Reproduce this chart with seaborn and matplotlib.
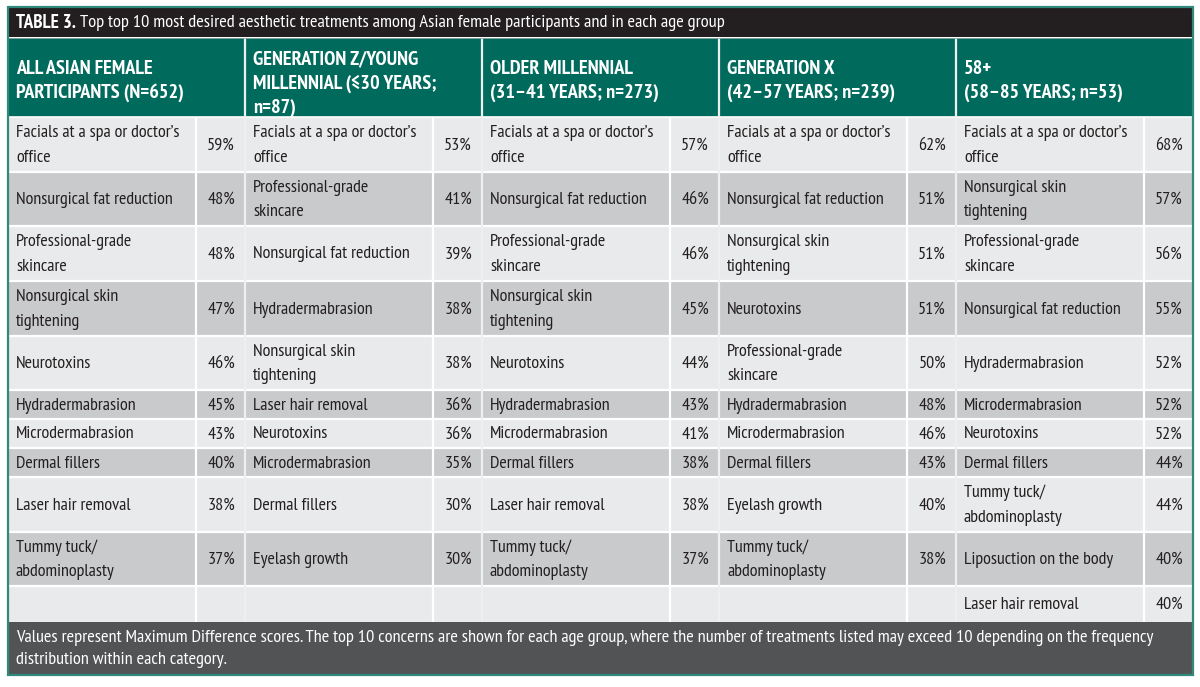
import matplotlib
matplotlib.use("Agg")
import matplotlib.pyplot as plt
from matplotlib import font_manager as fm
import seaborn as sns

sns.set_theme(style="white")
FONT = ["PT Sans Narrow", "DejaVu Sans"]
plt.rcParams["font.family"] = FONT

# ---------------- data ----------------
title_bold = "TABLE 3."
title_rest = "Top top 10 most desired aesthetic treatments among Asian female participants and in each age group"
footer_lines = [
    "Values represent Maximum Difference scores. The top 10 concerns are shown for each age group, where the number of treatments listed may exceed 10 depending on the frequency",
    "distribution within each category.",
]
headers = [
    "ALL ASIAN FEMALE\nPARTICIPANTS (N=652)",
    "GENERATION Z/YOUNG\nMILLENNIAL (≤30 YEARS;\nn=87)",
    "OLDER MILLENNIAL\n(31–41 YEARS; n=273)",
    "GENERATION X\n(42–57 YEARS; n=239)",
    "58+\n(58–85 YEARS; n=53)",
]
all_treat = ["Facials at a spa or doctor’s\noffice", "Nonsurgical fat reduction", "Professional-grade\nskincare",
             "Nonsurgical skin\ntightening", "Neurotoxins", "Hydradermabrasion", "Microdermabrasion",
             "Dermal fillers", "Laser hair removal", "Tummy tuck/\nabdominoplasty"]
all_pct = [59, 48, 48, 47, 46, 45, 43, 40, 38, 37]
genz_treat = ["Facials at a spa or doctor’s\noffice", "Professional-grade\nskincare", "Nonsurgical fat reduction",
              "Hydradermabrasion", "Nonsurgical skin\ntightening", "Laser hair removal", "Neurotoxins",
              "Microdermabrasion", "Dermal fillers", "Eyelash growth"]
genz_pct = [53, 41, 39, 38, 38, 36, 36, 35, 30, 30]
older_treat = ["Facials at a spa or doctor’s\noffice", "Nonsurgical fat reduction", "Professional-grade\nskincare",
               "Nonsurgical skin\ntightening", "Neurotoxins", "Hydradermabrasion", "Microdermabrasion",
               "Dermal fillers", "Laser hair removal", "Tummy tuck/\nabdominoplasty"]
older_pct = [57, 46, 46, 45, 44, 43, 41, 38, 38, 37]
genx_treat = ["Facials at a spa or doctor’s\noffice", "Nonsurgical fat reduction", "Nonsurgical skin\ntightening",
              "Neurotoxins", "Professional-grade\nskincare", "Hydradermabrasion", "Microdermabrasion",
              "Dermal fillers", "Eyelash growth", "Tummy tuck/\nabdominoplasty"]
genx_pct = [62, 51, 51, 51, 50, 48, 46, 43, 40, 38]
s58_treat = ["Facials at a spa or doctor’s\noffice", "Nonsurgical skin\ntightening", "Professional-grade\nskincare",
             "Nonsurgical fat reduction", "Hydradermabrasion", "Microdermabrasion", "Neurotoxins",
             "Dermal fillers", "Tummy tuck/\nabdominoplasty", "Liposuction on the body", "Laser hair removal"]
s58_pct = [68, 57, 56, 55, 52, 52, 52, 44, 44, 40, 40]

treatments = [all_treat, genz_treat, older_treat, genx_treat, s58_treat]
percents = [all_pct, genz_pct, older_pct, genx_pct, s58_pct]

# ---------------- layout ----------------
W, H = 1200, 687
col_edges = [8, 245, 482, 719, 956, 1193]
pct_w = 49
title_y = (8, 37)
head_y = (38, 117)
row_edges = [117, 172, 226, 281, 336, 390, 419, 448, 477, 532, 586, 622]
foot_y = (622, 675)

C_TITLE = "#231f20"
C_HEAD = "#006a5d"
C_BORDER = "#2f8a7c"
C_FOOT = "#525355"
C_LIGHT = "#e9eaeb"
C_DARK = "#c9cacc"
C_TEXT = "#231f20"

LINE = 25
LINE_H = 24

fig = plt.figure(figsize=(W / 100, H / 100), dpi=100)
ax = fig.add_axes([0, 0, 1, 1])
ax.set_xlim(0, W)
ax.set_ylim(H, 0)
ax.axis("off")
fig.canvas.draw()
R = fig.canvas.get_renderer()


def fit(s, target, weight="normal"):
    t = ax.text(0, 0, s, fontsize=12, fontweight=weight)
    w = t.get_window_extent(renderer=R).width
    t.remove()
    return 12.0 * target / w


FS = fit("Facials at a spa or doctor’s", 163)
FS_H = fit("PARTICIPANTS (N=652)", 168, "bold")
FS_TB = fit(title_bold, 60, "bold")
FS_T = fit(title_rest, 644)
FS_F = fit(footer_lines[0], 1134)

x0, x1 = col_edges[0], col_edges[-1]
# background bands
ax.barh((title_y[0] + title_y[1]) / 2, x1 - x0, height=title_y[1] - title_y[0], left=x0, color=C_TITLE, lw=0)
ax.barh((head_y[0] + head_y[1]) / 2, x1 - x0, height=head_y[1] - head_y[0], left=x0, color=C_HEAD, lw=0)
for i in range(len(row_edges) - 1):
    a, b = row_edges[i], row_edges[i + 1]
    ax.barh((a + b) / 2, x1 - x0, height=b - a, left=x0, color=C_LIGHT if i % 2 == 0 else C_DARK, lw=0)
ax.barh((foot_y[0] + foot_y[1]) / 2, x1 - x0, height=foot_y[1] - foot_y[0], left=x0, color=C_FOOT, lw=0)

# grid lines (white)
for y in row_edges[1:-1]:
    ax.plot([x0, x1], [y, y], color="white", lw=1.6, solid_capstyle="butt")
ax.plot([x0, x1], [head_y[1], head_y[1]], color="white", lw=1.2)
for ce in col_edges[1:-1]:
    ax.plot([ce, ce], [head_y[0], row_edges[-1]], color="#eef0ef", lw=1.6, solid_capstyle="butt")
for ce in col_edges[1:]:
    ax.plot([ce - pct_w, ce - pct_w], [row_edges[0], row_edges[-1]], color="white", lw=1.6, solid_capstyle="butt")
ax.plot([x0, x1], [head_y[0] - 0.5, head_y[0] - 0.5], color="#9aaaa6", lw=0.6)

# outer border
ax.plot([x0, x1, x1, x0, x0], [title_y[0] - 1, title_y[0] - 1, foot_y[1], foot_y[1], title_y[0] - 1],
        color=C_BORDER, lw=1.6, solid_joinstyle="miter")


def multiline(x, yc, s, step, **kw):
    lines = s.split("\n")
    n = len(lines)
    for k, ln in enumerate(lines):
        ax.text(x, yc + (k - (n - 1) / 2) * step, ln, va="center", **kw)


# title
ty = (title_y[0] + title_y[1]) / 2 + 0.5
tb = ax.text(16, ty, title_bold, color="white", fontsize=FS_TB, fontweight="bold", va="center")
bb = tb.get_window_extent(renderer=R)
xb = ax.transData.inverted().transform((bb.x1, bb.y0))[0]
ax.text(xb + 4, ty, title_rest, color="white", fontsize=FS_T, va="center")

# headers
for g, hd in enumerate(headers):
    n = hd.count("\n") + 1
    yc = 80.5 if n == 2 else 83.5
    multiline(col_edges[g] + 8, yc, hd, LINE_H, color="white", fontsize=FS_H, fontweight="bold")

# body
for g in range(5):
    for i, (t, p) in enumerate(zip(treatments[g], percents[g])):
        yc = (row_edges[i] + row_edges[i + 1]) / 2 + 1
        multiline(col_edges[g] + 8, yc, t, LINE, color=C_TEXT, fontsize=FS)
        ax.text(col_edges[g + 1] - 10, yc, f"{p}%", color=C_TEXT, fontsize=FS, va="center", ha="right")

# footer
for k, ln in enumerate(footer_lines):
    ax.text(16, 638 + k * 22.5, ln, color="white", fontsize=FS_F, va="center")

fig.savefig("out.png", dpi=100)
